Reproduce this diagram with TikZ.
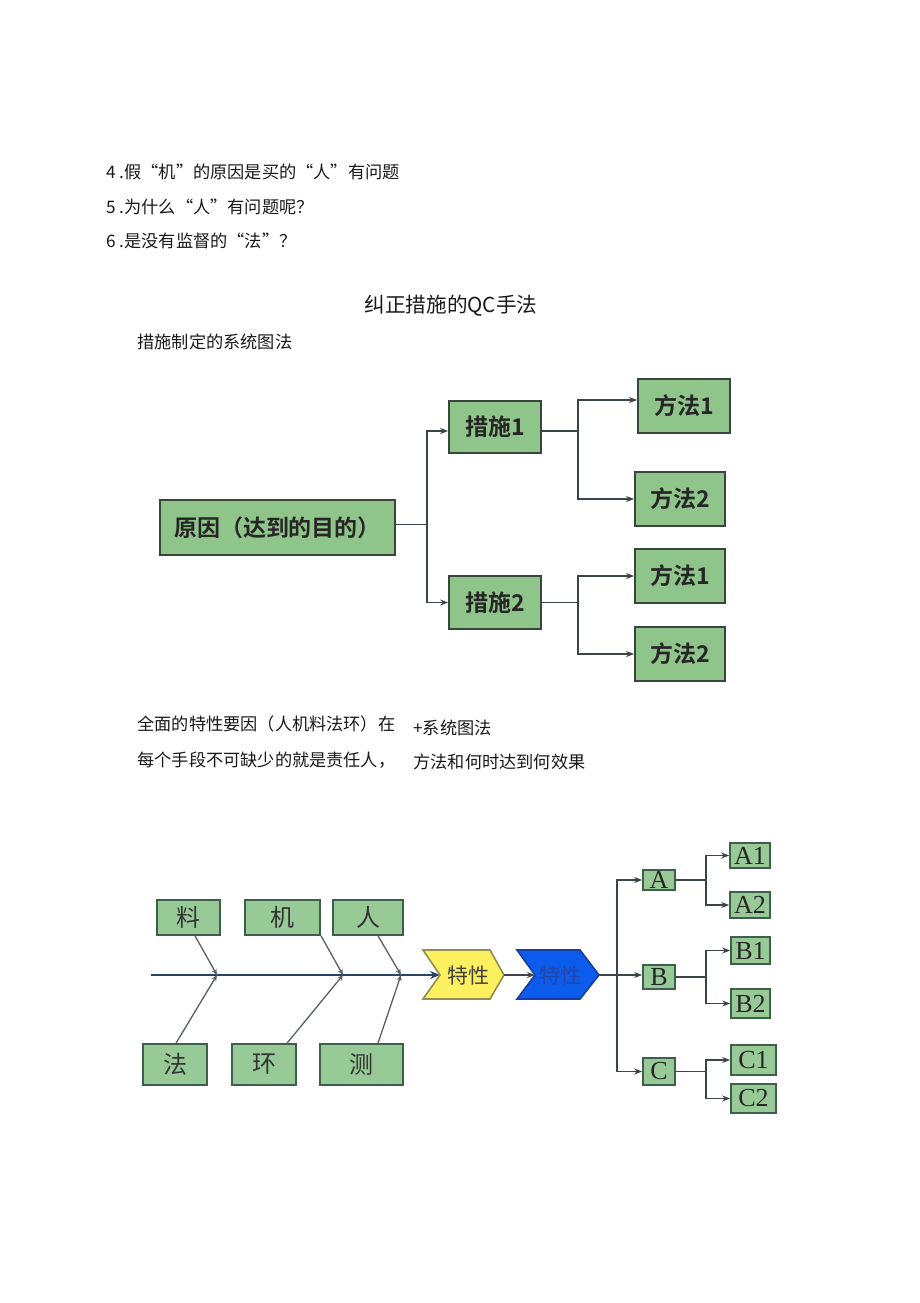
\documentclass[tikz,border=0pt]{standalone}
\usepackage{fontspec}
\setmainfont{Liberation Serif}
\newfontfamily\cjk{Noto Sans CJK SC}[BoldFont={* Bold}]
\usetikzlibrary{arrows.meta,calc}
\definecolor{gfill}{RGB}{143,196,138}
\definecolor{gdraw}{RGB}{55,72,58}
\definecolor{ffill}{RGB}{152,202,152}
\definecolor{fdraw}{RGB}{62,95,75}
\definecolor{lcol}{RGB}{60,68,72}
\definecolor{spinec}{RGB}{38,70,100}
\definecolor{yfill}{RGB}{252,240,95}
\definecolor{ydraw}{RGB}{150,140,80}
\definecolor{bfill}{RGB}{12,92,235}
\definecolor{bdraw}{RGB}{25,60,160}
\definecolor{btext}{RGB}{35,70,170}
\definecolor{txtc}{RGB}{25,25,25}
\begin{document}
\begin{tikzpicture}[x=0.5pt,y=-0.5pt,
  txt/.style={anchor=west,inner sep=0pt,text=txtc,font=\cjk\fontsize{8.6pt}{10pt}\selectfont},
  ttl/.style={inner sep=0pt,text=txtc,font=\cjk\fontsize{10.3pt}{12pt}\selectfont},
  gbox/.style 2 args={draw=gdraw,line width=0.9pt,fill=gfill,inner sep=0pt,
     minimum width=#1*0.5pt,minimum height=#2*0.5pt,text=black!85,
     font=\cjk\bfseries\fontsize{11.5pt}{13pt}\selectfont},
  fbox/.style 2 args={draw=fdraw,line width=0.8pt,fill=ffill,inner sep=0pt,
     minimum width=#1*0.5pt,minimum height=#2*0.5pt,text=black!80,
     font=\cjk\fontsize{12pt}{14pt}\selectfont},
  lbox/.style 2 args={draw=fdraw,line width=0.8pt,fill=ffill,inner sep=0pt,
     minimum width=#1*0.5pt,minimum height=#2*0.5pt,text=black!85,
     font=\fontsize{13pt}{14pt}\selectfont},
  line/.style={draw=lcol,line width=0.85pt},
  arr/.style={line,-{Stealth[length=4pt,width=3pt]}},
  bone/.style={draw=lcol!85,line width=0.65pt,-{Stealth[length=3pt,width=2.5pt]}},
  spine/.style={draw=spinec,line width=1.3pt,-{Stealth[length=5pt,width=4pt]}}
]
\useasboundingbox[fill=white] (0,0) rectangle (920,1303);

% ---- text lines ----
\node[txt] (l4) at (106,172) {4 .假“机”的原因是买的“人”有问题};
\node[txt] (l5) at (106,207) {5 .为什么“人”有问题呢？};
\node[txt] (l6) at (106,241) {6 .是没有监督的“法”？};
\node[ttl] (title) at (451,306) {纠正措施的QC手法};
\node[txt] (sub) at (137,342) {措施制定的系统图法};

% ---- system diagram ----
\node[gbox={235}{55}] (cause) at (277.5,527.5) {原因（达到的目的）};
\node[gbox={92}{52}] (m1) at (495,427) {措施1};
\node[gbox={92}{53}] (m2) at (495,602.5) {措施2};
\node[gbox={92}{54}] (f11) at (684,406) {方法1};
\node[gbox={90}{54}] (f12) at (680,499) {方法2};
\node[gbox={90}{54}] (f21) at (680,576) {方法1};
\node[gbox={90}{54}] (f22) at (680,654) {方法2};

\draw[line] ($(cause.east)+(0,-3)$) -- ++(31,0) coordinate (b0);
\draw[arr] (b0) |- ($(m1.west)+(0,4)$);
\draw[arr] (b0) |- (m2.west);
\draw[line] ($(m1.east)+(0,4)$) -- ++(36,0) coordinate (b1);
\draw[arr] (b1) |- ($(f11.west)+(0,-6)$);
\draw[arr] (b1) |- (f12.west);
\draw[line] (m2.east) -- ++(36,0) coordinate (b2);
\draw[arr] (b2) |- (f21.west);
\draw[arr] (b2) |- (f22.west);

% ---- middle text ----
\node[txt] (p1) at (137,724) {全面的特性要因（人机料法环）在};
\node[txt] (p2) at (137,760) {每个手段不可缺少的就是责任人，};
\node[txt] (p3) at (413,728) {+系统图法};
\node[txt] (p4) at (413,762) {方法和何时达到何效果};

% ---- fishbone ----
\node[fbox={63}{35}] (liao) at (188.5,917.5) {料};
\node[fbox={75}{35}] (ji) at (282.5,917.5) {机};
\node[fbox={70}{35}] (ren) at (368,917.5) {人};
\node[fbox={64}{41}] (fa) at (175,1064.5) {法};
\node[fbox={64}{41}] (huan) at (264,1064.5) {环};
\node[fbox={83}{41}] (ce) at (361.5,1064.5) {测};

\coordinate (sp0) at (151,975);
\coordinate (ynotch) at (440,975);
\coordinate (j1) at (217,975);
\coordinate (j2) at (343,975);
\coordinate (j3) at (401,975);
\draw[spine] (sp0) -- (ynotch);
\draw[bone] ($(liao.south)+(6.5,0)$) -- (j1);
\draw[bone] ($(ji.south)+(38.5,0)$) -- (j2);
\draw[bone] ($(ren.south)+(10,0)$) -- (j3);
\draw[bone] ($(fa.north)+(1,0)$) -- (j1);
\draw[bone] ($(huan.north)+(23,0)$) -- (j2);
\draw[bone] ($(ce.north)+(16.5,0)$) -- (j3);

% chevrons
\draw[fill=yfill,draw=ydraw,line width=0.8pt] (423,950) -- (490,950) -- (504,975) -- (490,999) -- (423,999) -- (440,975) -- cycle;
\draw[fill=bfill,draw=bdraw,line width=0.8pt] (517,950) -- (580,950) -- (599,975) -- (580,999) -- (517,999) -- (535,975) -- cycle;
\node[inner sep=0pt,font=\cjk\fontsize{10.5pt}{12pt}\selectfont,text=black!75] (yel) at (468,975) {特性};
\node[inner sep=0pt,font=\cjk\fontsize{10.5pt}{12pt}\selectfont,text=btext] (blu) at (560,975) {特性};
\coordinate (ytip) at (504,975);
\coordinate (bnotch) at (535,975);
\coordinate (btip) at (599,975);
\draw[arr] (ytip) -- (bnotch);

\node[lbox={32}{20}] (A) at (659,880) {A};
\node[lbox={32}{24}] (B) at (659,977) {B};
\node[lbox={32}{27}] (C) at (659,1071.5) {C};
\node[lbox={40}{25}] (A1) at (750,855.5) {A1};
\node[lbox={40}{26}] (A2) at (750,905) {A2};
\node[lbox={39}{27}] (B1) at (750.5,950.5) {B1};
\node[lbox={39}{29}] (B2) at (750.5,1003.5) {B2};
\node[lbox={45}{30}] (C1) at (753.5,1060) {C1};
\node[lbox={45}{29}] (C2) at (753.5,1098.5) {C2};

\draw[line] (btip) -- (617,975) coordinate (bus);
\draw[arr] (bus) |- (A.west);
\draw[arr] (bus) -- (B.west |- bus);
\draw[arr] (bus) |- (C.west);
\draw[line] (A.east) -- ++(30,0) coordinate (ba);
\draw[arr] (ba) |- (A1.west);
\draw[arr] (ba) |- (A2.west);
\draw[line] (B.east) -- ++(30,0) coordinate (bb);
\draw[arr] (bb) |- (B1.west);
\draw[arr] (bb) |- (B2.west);
\draw[line] (C.east) -- ++(30,0) coordinate (bc);
\draw[arr] (bc) |- (C1.west);
\draw[arr] (bc) |- (C2.west);
\end{tikzpicture}
\end{document}
